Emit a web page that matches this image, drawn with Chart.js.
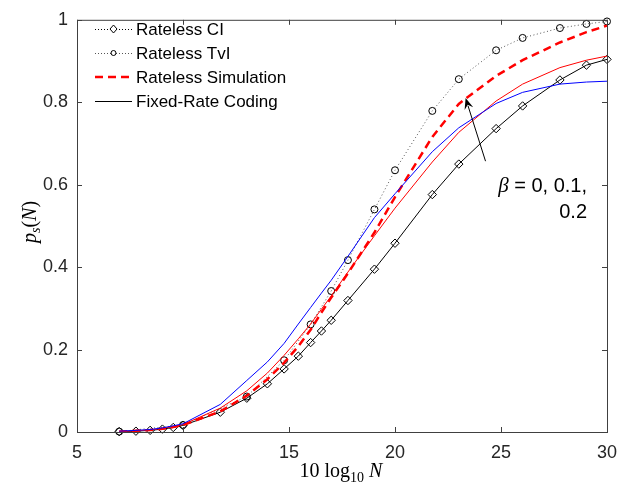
<!DOCTYPE html>
<html>
<head>
<meta charset="utf-8">
<script src="https://cdn.jsdelivr.net/npm/chart.js@4"></script>
<style>
  body { margin: 0; background: #fff; }
  #wrap { width: 635px; height: 488px; position: relative; }
</style>
</head>
<body>
<div id="wrap"><canvas id="chart"></canvas></div>
<script>
// x = 10 log10 N for N = 5,6,7,8,9,10,15,20,25,30,35,40,45,50,60,80,100,150,200,300,400,600,800,1000
const snrDb = [6.99, 7.78, 8.45, 9.03, 9.54, 10, 11.76, 13.01, 13.98, 14.77, 15.44, 16.02, 16.53, 16.99, 17.78, 19.03, 20, 21.76, 23.01, 24.77, 26.02, 27.78, 29.03, 30];
const ratelessCI = [0.001, 0.002, 0.004, 0.007, 0.011, 0.016, 0.048, 0.082, 0.117, 0.153, 0.184, 0.217, 0.245, 0.271, 0.319, 0.395, 0.458, 0.576, 0.650, 0.736, 0.791, 0.854, 0.890, 0.904];
const simulation = [0.001, 0.003, 0.005, 0.008, 0.012, 0.017, 0.050, 0.088, 0.128, 0.168, 0.208, 0.248, 0.290, 0.326, 0.385, 0.484, 0.570, 0.716, 0.796, 0.864, 0.902, 0.945, 0.970, 0.986];
const fixedRed = [0.001, 0.003, 0.005, 0.009, 0.013, 0.018, 0.058, 0.100, 0.143, 0.186, 0.226, 0.262, 0.298, 0.330, 0.388, 0.476, 0.543, 0.655, 0.727, 0.803, 0.844, 0.884, 0.902, 0.912];
const fixedBlue = [0.002, 0.004, 0.006, 0.010, 0.015, 0.020, 0.067, 0.125, 0.170, 0.215, 0.262, 0.302, 0.337, 0.368, 0.426, 0.520, 0.578, 0.680, 0.738, 0.797, 0.824, 0.844, 0.849, 0.851];

// TvI bound only at some N
const tvlDb = [6.99, 10, 13.01, 14.77, 16.02, 16.99, 17.78, 19.03, 20, 21.76, 23.01, 24.77, 26.02, 27.78, 29.03, 30];
const ratelessTvl = [0.001, 0.017, 0.086, 0.174, 0.261, 0.342, 0.417, 0.540, 0.635, 0.779, 0.856, 0.926, 0.956, 0.980, 0.990, 0.996];

const xTicks = [5, 10, 15, 20, 25, 30];
const yTicks = [0, 0.2, 0.4, 0.6, 0.8, 1];

const legendLabels = ['Rateless CI', 'Rateless TvI', 'Rateless Simulation', 'Fixed-Rate Coding'];

const SANS = '"Liberation Sans", Arial, Helvetica, sans-serif';
const SERIF = '"Liberation Serif", "Times New Roman", serif';
const AXIS = '#404040';

const pts = (xs, ys) => xs.map((x, i) => ({ x: x, y: ys[i] }));

// draw a run of text pieces with different fonts
function drawRuns(ctx, runs, x, y, align) {
  let total = 0;
  runs.forEach(r => { ctx.font = r.font; total += ctx.measureText(r.t).width; });
  let cx = align === 'center' ? x - total / 2 : align === 'right' ? x - total : x;
  runs.forEach(r => {
    ctx.font = r.font;
    ctx.fillText(r.t, cx, y + (r.dy || 0));
    cx += ctx.measureText(r.t).width;
  });
}

const decorations = {
  id: 'decorations',
  afterDraw(chart) {
    const { ctx, chartArea: a, scales } = chart;
    const xs = scales.x, ys = scales.y;
    ctx.save();

    // box + inward ticks
    ctx.strokeStyle = AXIS;
    ctx.lineWidth = 1;
    ctx.strokeRect(a.left + 0.5, a.top + 0.5, a.right - a.left, a.bottom - a.top);
    ctx.beginPath();
    xTicks.forEach(v => {
      const px = Math.round(xs.getPixelForValue(v)) + 0.5;
      ctx.moveTo(px, a.bottom); ctx.lineTo(px, a.bottom - 5);
      ctx.moveTo(px, a.top); ctx.lineTo(px, a.top + 5);
    });
    yTicks.forEach(v => {
      const py = Math.round(ys.getPixelForValue(v)) + 0.5;
      ctx.moveTo(a.left, py); ctx.lineTo(a.left + 5, py);
      ctx.moveTo(a.right, py); ctx.lineTo(a.right - 5, py);
    });
    ctx.stroke();

    // legend
    const lx0 = 95, lx1 = 132, tx = 136;
    const rows = [29, 53, 77, 101];
    ctx.fillStyle = '#000';
    ctx.font = '17px ' + SANS;
    ctx.textBaseline = 'middle';
    ctx.textAlign = 'left';
    legendLabels.forEach((lab, i) => ctx.fillText(lab, tx, rows[i] + 1));

    const mid = (lx0 + lx1) / 2;
    // Rateless CI
    ctx.strokeStyle = '#000';
    ctx.setLineDash([1, 2]);
    ctx.beginPath(); ctx.moveTo(lx0, rows[0] + 0.5); ctx.lineTo(lx1, rows[0] + 0.5); ctx.stroke();
    ctx.setLineDash([]);
    ctx.fillStyle = '#fff';
    ctx.beginPath();
    ctx.moveTo(mid, rows[0] - 4); ctx.lineTo(mid + 3.5, rows[0]); ctx.lineTo(mid, rows[0] + 4); ctx.lineTo(mid - 3.5, rows[0]); ctx.closePath();
    ctx.fill(); ctx.stroke();
    // Rateless TvI
    ctx.strokeStyle = '#555';
    ctx.setLineDash([1, 2]);
    ctx.beginPath(); ctx.moveTo(lx0, rows[1] + 0.5); ctx.lineTo(lx1, rows[1] + 0.5); ctx.stroke();
    ctx.setLineDash([]);
    ctx.strokeStyle = '#000';
    ctx.beginPath(); ctx.arc(mid, rows[1], 2.5, 0, Math.PI * 2); ctx.fill(); ctx.stroke();
    // Simulation
    ctx.strokeStyle = '#ff0000';
    ctx.lineWidth = 2.5;
    ctx.setLineDash([8, 5]);
    ctx.beginPath(); ctx.moveTo(lx0, rows[2]); ctx.lineTo(lx1, rows[2]); ctx.stroke();
    ctx.setLineDash([]);
    // Fixed-rate
    ctx.strokeStyle = '#000';
    ctx.lineWidth = 1;
    ctx.beginPath(); ctx.moveTo(lx0, rows[3] + 0.5); ctx.lineTo(lx1, rows[3] + 0.5); ctx.stroke();

    // arrow annotation
    const tail = { x: xs.getPixelForValue(24.27), y: ys.getPixelForValue(0.657) };
    const tip = { x: xs.getPixelForValue(23.33), y: ys.getPixelForValue(0.81) };
    const ang = Math.atan2(tip.y - tail.y, tip.x - tail.x);
    ctx.strokeStyle = '#000';
    ctx.fillStyle = '#000';
    ctx.beginPath(); ctx.moveTo(tail.x, tail.y);
    ctx.lineTo(tip.x - 8 * Math.cos(ang), tip.y - 8 * Math.sin(ang)); ctx.stroke();
    ctx.beginPath();
    ctx.moveTo(tip.x, tip.y);
    ctx.lineTo(tip.x - 11 * Math.cos(ang) + 4.5 * Math.sin(ang), tip.y - 11 * Math.sin(ang) - 4.5 * Math.cos(ang));
    ctx.lineTo(tip.x - 7 * Math.cos(ang), tip.y - 7 * Math.sin(ang));
    ctx.lineTo(tip.x - 11 * Math.cos(ang) - 4.5 * Math.sin(ang), tip.y - 11 * Math.sin(ang) + 4.5 * Math.cos(ang));
    ctx.closePath(); ctx.fill();

    ctx.textBaseline = 'alphabetic';
    drawRuns(ctx, [
      { t: '\u03b2', font: 'italic 21px ' + SERIF },
      { t: ' = 0, 0.1,', font: '20px ' + SANS }
    ], 587, 192, 'right');
    drawRuns(ctx, [{ t: '0.2', font: '20px ' + SANS }], 587, 218, 'right');

    // axis titles
    drawRuns(ctx, [
      { t: '10 log', font: '20px ' + SERIF },
      { t: '10', font: '14px ' + SERIF, dy: 5 },
      { t: ' N', font: 'italic 20px ' + SERIF }
    ], 341, 477, 'center');

    ctx.translate(36, 222);
    ctx.rotate(-Math.PI / 2);
    drawRuns(ctx, [
      { t: 'p', font: 'italic 20px ' + SERIF },
      { t: 's', font: 'italic 14px ' + SERIF, dy: 4 },
      { t: '(', font: '20px ' + SERIF },
      { t: 'N', font: 'italic 20px ' + SERIF },
      { t: ')', font: '20px ' + SERIF }
    ], 0, 0, 'center');
    ctx.restore();
  }
};

const hollow = 'rgba(0,0,0,0)';

new Chart(document.getElementById('chart'), {
  type: 'scatter',
  data: {
    datasets: [
      {
        label: 'Fixed-Rate Coding (blue)',
        data: pts(snrDb, fixedBlue),
        showLine: true, borderColor: '#0000ff', borderWidth: 1,
        pointRadius: 0, clip: false
      },
      {
        label: 'Fixed-Rate Coding (red)',
        data: pts(snrDb, fixedRed),
        showLine: true, borderColor: '#ff0000', borderWidth: 1,
        pointRadius: 0, clip: false
      },
      {
        label: 'Rateless Simulation',
        data: pts(snrDb, simulation),
        showLine: true, borderColor: '#ff0000', borderWidth: 2.5,
        borderDash: [8, 5], pointRadius: 0, clip: false
      },
      {
        label: 'Rateless TvI',
        data: pts(tvlDb, ratelessTvl),
        showLine: true, borderColor: '#555', borderWidth: 1, borderDash: [1, 2.5],
        pointStyle: 'circle', pointRadius: 3.5, pointBorderColor: '#000',
        pointBackgroundColor: hollow, pointBorderWidth: 1, clip: false
      },
      {
        label: 'Rateless CI',
        data: pts(snrDb, ratelessCI),
        showLine: true, borderColor: '#000', borderWidth: 1,
        pointStyle: 'rectRot', pointRadius: 4.2, pointBorderColor: '#000',
        pointBackgroundColor: hollow, pointBorderWidth: 1, clip: false
      }
    ]
  },
  options: {
    responsive: true,
    maintainAspectRatio: false,
    animation: false,
    layout: { padding: { top: 14, right: 28, left: 0, bottom: 0 } },
    plugins: { legend: { display: false }, tooltip: { enabled: false } },
    scales: {
      x: {
        type: 'linear', min: 5, max: 30,
        afterBuildTicks: s => { s.ticks = xTicks.map(v => ({ value: v })); },
        afterFit: s => { s.height = 56; },
        grid: { display: false, drawTicks: false },
        border: { display: false },
        ticks: { color: '#262626', padding: 10, font: { family: SANS, size: 18 }, callback: v => String(v) }
      },
      y: {
        type: 'linear', min: 0, max: 1,
        afterBuildTicks: s => { s.ticks = yTicks.map(v => ({ value: v })); },
        afterFit: s => { s.width = 77; },
        grid: { display: false, drawTicks: false },
        border: { display: false },
        ticks: { color: '#262626', padding: 9, font: { family: SANS, size: 18 }, callback: v => String(v) }
      }
    }
  },
  plugins: [decorations]
});
</script>
</body>
</html>
